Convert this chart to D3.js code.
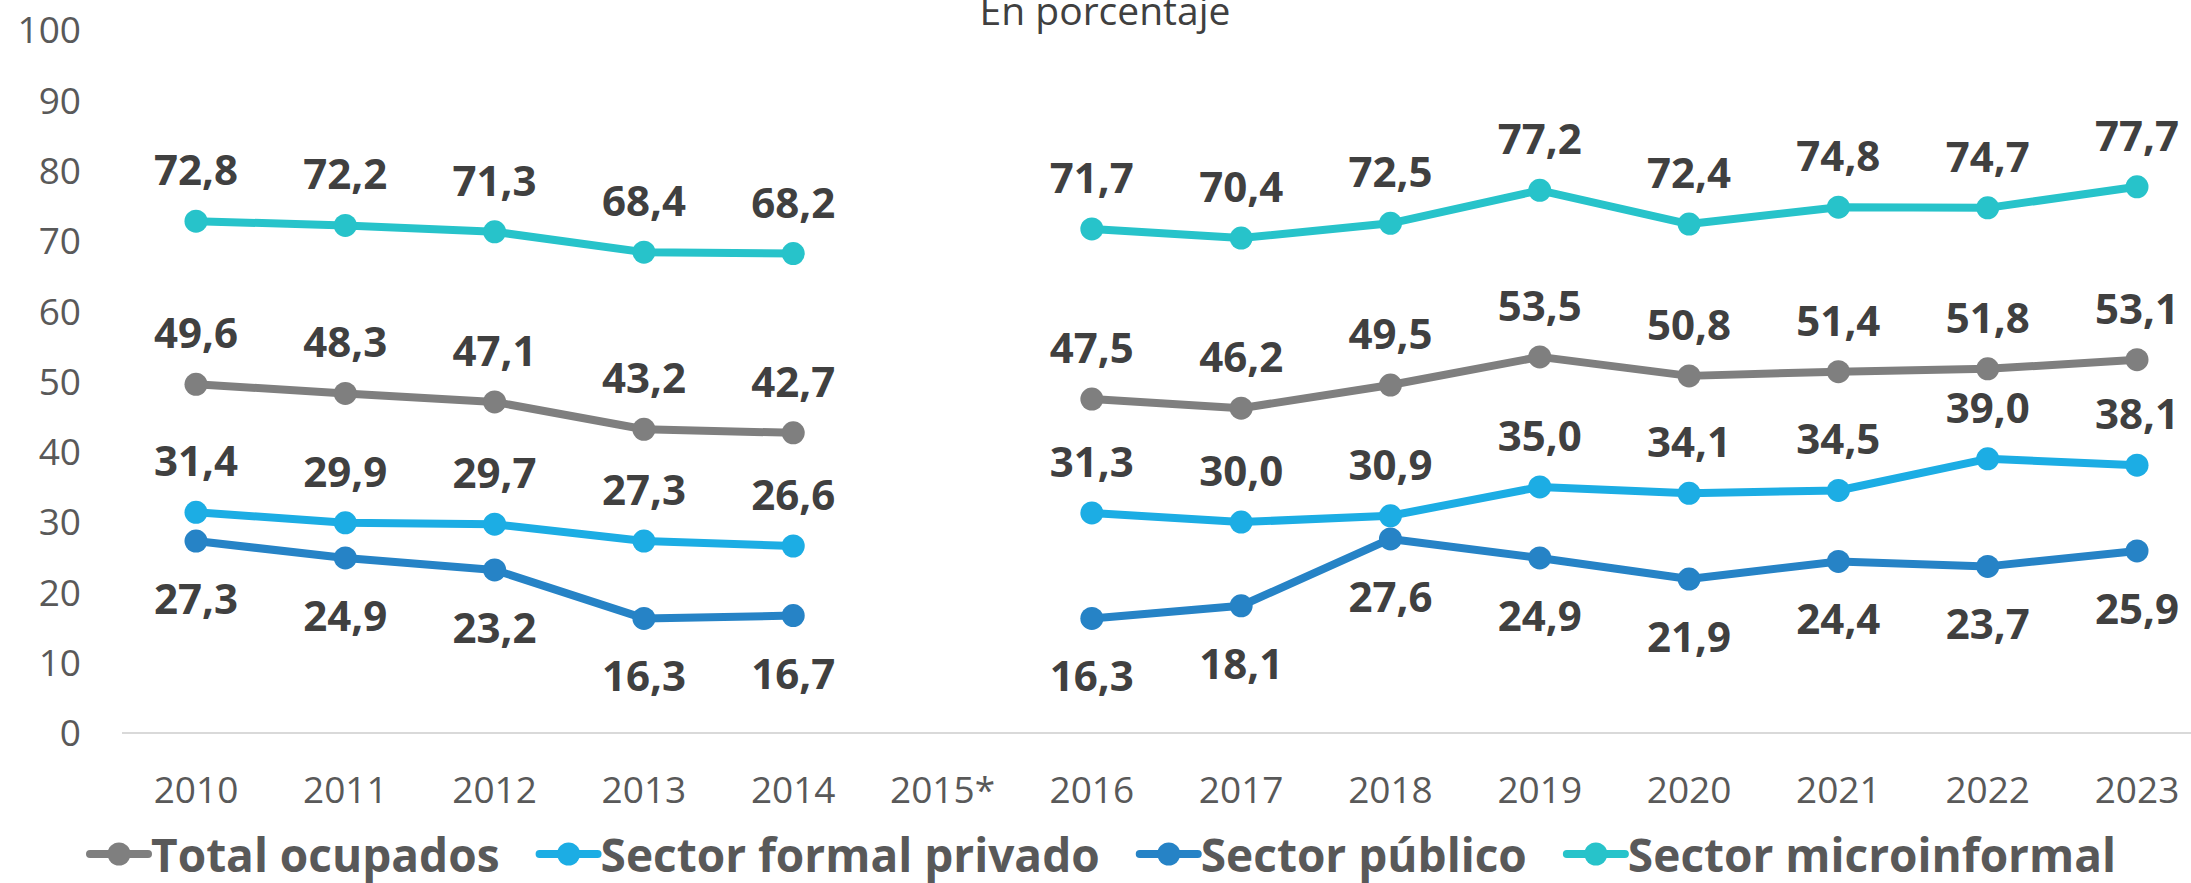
<!DOCTYPE html>
<html><head><meta charset="utf-8">
<script src="https://cdn.jsdelivr.net/npm/d3@7"></script>
<style>html,body{margin:0;padding:0;background:#fff;overflow:hidden}</style>
</head><body><svg id="c" width="2191" height="883"></svg>
<script>
const years = ["2010","2011","2012","2013","2014","2015*","2016","2017","2018","2019","2020","2021","2022","2023"];
const totalOcupados = [49.6,48.3,47.1,43.2,42.7,null,47.5,46.2,49.5,53.5,50.8,51.4,51.8,53.1];
const formalPrivado = [31.4,29.9,29.7,27.3,26.6,null,31.3,30.0,30.9,35.0,34.1,34.5,39.0,38.1];
const sectorPublico = [27.3,24.9,23.2,16.3,16.7,null,16.3,18.1,27.6,24.9,21.9,24.4,23.7,25.9];
const microinformal = [72.8,72.2,71.3,68.4,68.2,null,71.7,70.4,72.5,77.2,72.4,74.8,74.7,77.7];
const yTicks = [0,10,20,30,40,50,60,70,80,90,100];
const seriesNames = ["Total ocupados","Sector formal privado","Sector público","Sector microinformal"];
const title = "En porcentaje";

const series = [
  {name: seriesNames[0], values: totalOcupados, color: "#7f7f7f", below: false},
  {name: seriesNames[1], values: formalPrivado, color: "#1cade4", below: false},
  {name: seriesNames[2], values: sectorPublico, color: "#2683c6", below: true},
  {name: seriesNames[3], values: microinformal, color: "#27c3ca", below: false}
];

const svg = d3.select("#c");
const font = "'Open Sans', sans-serif";
const x = d3.scalePoint().domain(years).range([196, 2137]);
const y = d3.scaleLinear().domain([0, 100]).range([733, 30]);

// title
svg.append("text").attr("x", 1105).attr("y", 25).attr("text-anchor", "middle")
  .attr("font-family", font).attr("font-size", 39).attr("fill", "#404040").text(title);

// baseline axis
svg.append("line").attr("x1", 122).attr("x2", 2191).attr("y1", y(0)).attr("y2", y(0))
  .attr("stroke", "#d9d9d9").attr("stroke-width", 2);

// y ticks
svg.append("g").selectAll("text").data(yTicks).join("text")
  .attr("x", 81).attr("y", d => y(d)).attr("dy", "0.36em").attr("text-anchor", "end")
  .attr("font-family", font).attr("font-size", 37).attr("fill", "#595959").text(d => d);

// x ticks
svg.append("g").selectAll("text").data(years).join("text")
  .attr("x", d => x(d)).attr("y", 803).attr("text-anchor", "middle")
  .attr("font-family", font).attr("font-size", 37).attr("fill", "#595959").text(d => d);

const line = d3.line().defined(d => d.v != null).x(d => x(d.k)).y(d => y(d.v));
const fmt = v => v.toFixed(1).replace(".", ",");

series.forEach(s => {
  const pts = years.map((k, i) => ({k, v: s.values[i]}));
  const g = svg.append("g");
  g.append("path").datum(pts).attr("d", line).attr("fill", "none")
    .attr("stroke", s.color).attr("stroke-width", 8).attr("stroke-linejoin", "round");
  const valid = pts.filter(d => d.v != null);
  g.selectAll("circle").data(valid).join("circle")
    .attr("cx", d => x(d.k)).attr("cy", d => y(d.v)).attr("r", 11.5).attr("fill", s.color);
  g.selectAll("text").data(valid).join("text")
    .attr("x", d => x(d.k)).attr("y", d => y(d.v) + (s.below ? 73 : -36))
    .attr("text-anchor", "middle").attr("font-family", font).attr("font-weight", 700)
    .attr("font-size", 42).attr("fill", "#404040").text(d => fmt(d.v));
});

// legend
const lg = svg.append("g");
let cx = 0;
series.forEach(s => {
  const it = lg.append("g").attr("transform", `translate(${cx},0)`);
  it.append("line").attr("x1", 0).attr("x2", 58).attr("y1", 854).attr("y2", 854)
    .attr("stroke", s.color).attr("stroke-width", 8).attr("stroke-linecap", "round");
  it.append("circle").attr("cx", 29).attr("cy", 854).attr("r", 11.5).attr("fill", s.color);
  const t = it.append("text").attr("x", 61).attr("y", 872).attr("font-family", font)
    .attr("font-weight", 700).attr("font-size", 46).attr("fill", "#595959").text(s.name);
  const w = t.node().getComputedTextLength();
  cx += 61 + w + 40;
});
const total = cx - 40;
lg.attr("transform", `translate(${1103 - total / 2},0)`);
</script></body></html>
